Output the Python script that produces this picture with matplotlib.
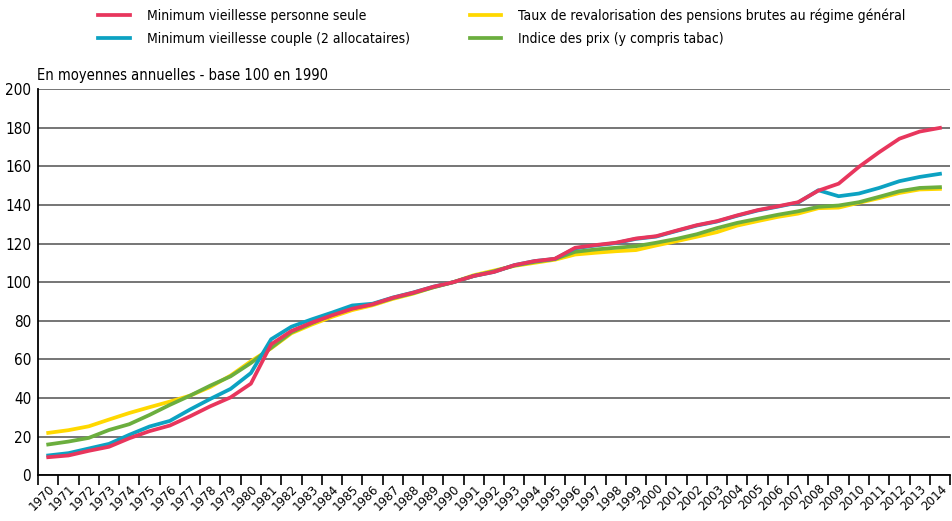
import numpy as np
import matplotlib
matplotlib.use('Agg')
import matplotlib.pyplot as plt
from matplotlib.ticker import FixedLocator

plt.rcParams['font.family'] = ['DejaVu Sans']
plt.rcParams['font.stretch'] = 'condensed'

# data (base 100 in 1990)
years = list(range(1970, 2015))

min_seule = [9.3, 10.2, 12.6, 14.7, 19.1, 22.8, 25.7, 30.5, 35.7, 40.3,
             47.4, 67.8, 74.7, 79.0, 82.8, 86.2, 88.5, 91.9, 94.5, 97.6,
             100.0, 103.2, 105.3, 108.8, 110.9, 112.1, 117.8, 119.2, 120.4, 122.6,
             123.8, 126.7, 129.5, 131.6, 134.6, 137.3, 139.3, 141.4, 147.4, 151.0,
             159.7, 167.3, 174.3, 178.0, 179.9]

min_couple = [10.2, 11.4, 13.8, 16.2, 20.9, 25.2, 28.1, 34.0, 39.5, 44.7,
              52.9, 70.4, 76.9, 80.7, 84.2, 87.9, 88.8, 92.0, 94.6, 97.6,
              100.0, 103.2, 105.3, 108.8, 110.9, 112.0, 117.5, 119.0, 120.2, 122.4,
              123.6, 126.5, 129.3, 131.4, 134.4, 137.1, 139.1, 141.2, 147.6, 144.5,
              145.9, 148.8, 152.3, 154.5, 156.1]

pensions = [21.9, 23.3, 25.3, 28.8, 32.2, 35.2, 38.1, 41.2, 45.7, 51.6,
            59.0, 65.7, 73.5, 78.0, 82.0, 85.5, 88.0, 91.3, 94.0, 97.3,
            100.0, 103.6, 106.0, 108.4, 110.0, 111.6, 114.3, 115.2, 116.0, 116.6,
            119.0, 121.2, 123.5, 125.9, 129.3, 131.6, 133.8, 135.5, 138.3, 138.6,
            141.1, 143.5, 146.2, 148.0, 148.3]

prix = [15.9, 17.4, 19.3, 23.4, 26.4, 31.2, 36.4, 41.2, 46.4, 51.2,
        58.1, 66.0, 74.0, 78.7, 83.0, 86.5, 88.5, 91.7, 94.3, 97.3,
        100.0, 103.2, 105.6, 108.6, 110.5, 112.0, 115.7, 116.9, 117.8, 118.6,
        120.4, 122.4, 124.8, 128.0, 130.7, 132.8, 134.9, 136.7, 139.0, 139.7,
        141.4, 144.2, 147.1, 148.8, 149.2]

labels = ['Minimum vieillesse personne seule',
          'Minimum vieillesse couple (2 allocataires)',
          'Taux de revalorisation des pensions brutes au régime général',
          'Indice des prix (y compris tabac)']
colors = ['#E8365D', '#0CA2C2', '#FFD800', '#6BAE3E']

fig = plt.figure(figsize=(9.52, 5.21), dpi=100)
ax = fig.add_axes([0.040, 0.088, 0.958, 0.741])

x = np.arange(len(years))
lw = 2.7
# drawing order: yellow, green, blue, red on top
l3, = ax.plot(x, pensions, color=colors[2], lw=lw, zorder=3)
l4, = ax.plot(x, prix, color=colors[3], lw=lw, zorder=4)
l2, = ax.plot(x, min_couple, color=colors[1], lw=lw, zorder=5)
l1, = ax.plot(x, min_seule, color=colors[0], lw=lw, zorder=6)

ax.set_xlim(-0.5, len(years) - 0.5)
ax.set_ylim(0, 200)
ax.set_yticks(range(0, 201, 20))
ax.yaxis.grid(True, color='#6a6a6a', lw=1.3)
ax.set_axisbelow(True)
ax.tick_params(axis='y', length=0, pad=5, labelsize=11)

ax.set_xticks(x)
ax.set_xticklabels([str(y) for y in years], rotation=45, ha='right',
                   rotation_mode='anchor', fontsize=9.5)
ax.xaxis.set_minor_locator(FixedLocator(np.arange(-0.5, len(years), 1)))
ax.tick_params(axis='x', which='major', length=0, pad=5)
ax.tick_params(axis='x', which='minor', length=7, width=1.2, color='black')

ax.spines['right'].set_visible(False)
ax.spines['top'].set_visible(False)
ax.spines['left'].set_linewidth(1.3)
ax.spines['bottom'].set_linewidth(1.3)

fig.text(0.039, 0.855, 'En moyennes annuelles - base 100 en 1990',
         fontsize=10.5, ha='left', va='center')

fig.legend([l1, l2, l3, l4], labels, ncol=2, loc='upper left',
           bbox_to_anchor=(0.090, 1.007), frameon=False, fontsize=10,
           handlelength=2.3, handletextpad=1.2, columnspacing=4.3,
           labelspacing=0.6)

plt.savefig('out.png', dpi=100)
